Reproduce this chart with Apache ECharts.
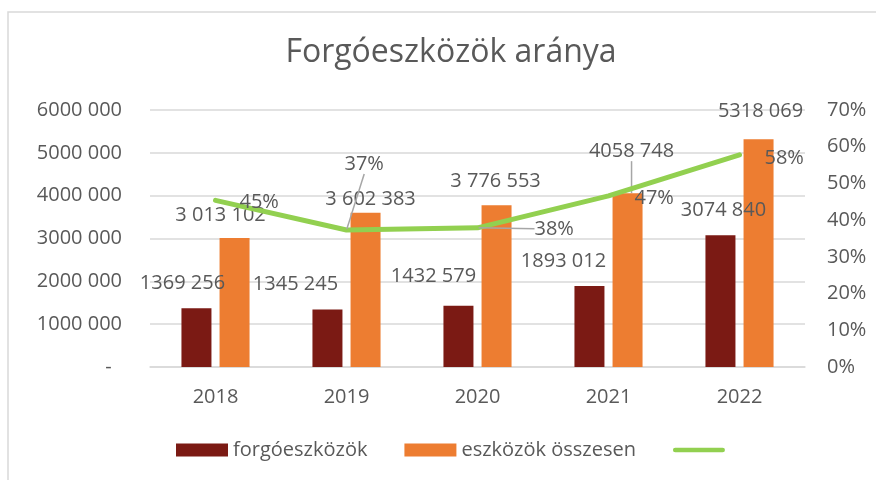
<!DOCTYPE html>
<html>
<head>
<meta charset="utf-8">
<script src="https://cdn.jsdelivr.net/npm/echarts@6/dist/echarts.min.js"></script>
<style>
  html, body { margin: 0; padding: 0; background: #fff; }
  #chart { width: 876px; height: 480px; }
</style>
</head>
<body>
<div id="chart"></div>
<script>
var years = ['2018', '2019', '2020', '2021', '2022'];
var currentAssets = [1369256, 1345245, 1432579, 1893012, 3074840];
var totalAssets = [3013102, 3602383, 3776553, 4058748, 5318069];
var ratio = [0.454, 0.373, 0.379, 0.466, 0.578];
var currentLabels = ['1369 256', '1345 245', '1432 579', '1893 012', '3074 840'];
var totalLabels = ['3 013 102', '3 602 383', '3 776 553', '4058 748', '5318 069'];
var ratioLabels = ['45%', '37%', '38%', '47%', '58%'];
var leftTicks = ['-', '1000 000', '2000 000', '3000 000', '4000 000', '5000 000', '6000 000'];

// label nudges (like the hand-moved labels in the original)
var curShift = [[-14, -10], [-32, -10], [-25, -14], [-26, -10], [3, -10]];
var totShift = [[-14, -8], [5, 2], [-1, -9], [4, -27], [2, -13]];
var ratShift = [[18, 2], [-8, -66], [51, 1], [20, 2], [19, 4]];

var font = 'Open Sans';
var textColor = '#595959';

var chart = echarts.init(document.getElementById('chart'));

var option = {
  animation: false,
  textStyle: { fontFamily: font },
  title: {
    text: 'Forgóeszközök aránya',
    left: 446,
    textAlign: 'center',
    top: 32,
    textStyle: { fontFamily: font, fontSize: 32, fontWeight: 'normal', color: textColor }
  },
  graphic: [{
    type: 'rect',
    shape: { x: 8, y: 12, width: 900, height: 500 },
    style: { fill: 'none', stroke: '#D9D9D9', lineWidth: 1.5 },
    silent: true
  }],
  legend: {
    bottom: 15,
    left: 171,
    itemWidth: 52,
    itemHeight: 13,
    itemGap: 37,
    textStyle: { fontFamily: font, fontSize: 20, color: textColor },
    data: [
      { name: 'forgóeszközök', icon: 'rect' },
      { name: 'eszközök összesen', icon: 'rect' },
      { name: ' ', icon: 'path://M2.5,0H54.5A2.5,2.5,0,0,1,54.5,5H2.5A2.5,2.5,0,0,1,2.5,0Z' }
    ]
  },
  grid: { left: 150, right: 71, top: 110, bottom: 113, containLabel: false },
  xAxis: {
    type: 'category',
    data: years,
    axisLine: { lineStyle: { color: '#D9D9D9', width: 1.5 } },
    axisTick: { show: false },
    axisLabel: { fontSize: 20, color: textColor, margin: 20 }
  },
  yAxis: [{
    type: 'value',
    min: 0,
    max: 6000000,
    interval: 1000000,
    axisLine: { show: false },
    axisTick: { show: false },
    splitLine: { lineStyle: { color: '#D9D9D9', width: 1.5 } },
    axisLabel: {
      fontSize: 20,
      color: textColor,
      margin: 28,
      formatter: function (v) {
        var t = leftTicks[Math.round(v / 1000000)];
        return t === '-' ? '-  ' : t;
      }
    }
  }, {
    type: 'value',
    min: 0,
    max: 0.7,
    interval: 0.1,
    axisLine: { show: false },
    axisTick: { show: false },
    splitLine: { show: false },
    axisLabel: {
      fontSize: 20,
      color: textColor,
      margin: 22,
      formatter: function (v) { return Math.round(v * 100) + '%'; }
    }
  }],
  series: [{
    name: 'forgóeszközök',
    type: 'bar',
    data: currentAssets,
    barWidth: 30,
    barGap: '27%',
    itemStyle: { color: '#7B1A14' },
    label: {
      show: true,
      position: 'top',
      distance: 5,
      fontSize: 20,
      color: textColor,
      formatter: function (p) { return currentLabels[p.dataIndex]; }
    },
    labelLayout: function (p) {
      return { dx: curShift[p.dataIndex][0], dy: curShift[p.dataIndex][1] };
    }
  }, {
    name: 'eszközök összesen',
    type: 'bar',
    data: totalAssets.map(function (v, i) {
      return i === 3 ? { value: v, labelLine: { show: true } } : v;
    }),
    barWidth: 30,
    itemStyle: { color: '#ED7D31' },
    label: {
      show: true,
      position: 'top',
      distance: 5,
      fontSize: 20,
      color: textColor,
      formatter: function (p) { return totalLabels[p.dataIndex]; }
    },
    labelLine: { show: false, lineStyle: { color: '#A6A6A6', width: 1.5 } },
    labelLayout: function (p) {
      return { dx: totShift[p.dataIndex][0], dy: totShift[p.dataIndex][1] };
    }
  }, {
    name: ' ',
    type: 'line',
    yAxisIndex: 1,
    data: ratio.map(function (v, i) {
      return (i === 1 || i === 2) ? { value: v, labelLine: { show: true } } : v;
    }),
    symbol: 'circle',
    symbolSize: 2,
    showSymbol: true,
    lineStyle: { color: '#92D050', width: 5, cap: 'round', join: 'round' },
    itemStyle: { color: '#92D050' },
    z: 5,
    label: {
      show: true,
      position: 'right',
      distance: 5,
      fontSize: 20,
      color: textColor,
      formatter: function (p) { return ratioLabels[p.dataIndex]; }
    },
    labelLine: { show: false, lineStyle: { color: '#A6A6A6', width: 1.5 } },
    labelLayout: function (p) {
      return { dx: ratShift[p.dataIndex][0], dy: ratShift[p.dataIndex][1] };
    }
  }]
};

chart.setOption(option);
window.addEventListener('resize', function () {
  chart.resize();
});
</script>
</body>
</html>
